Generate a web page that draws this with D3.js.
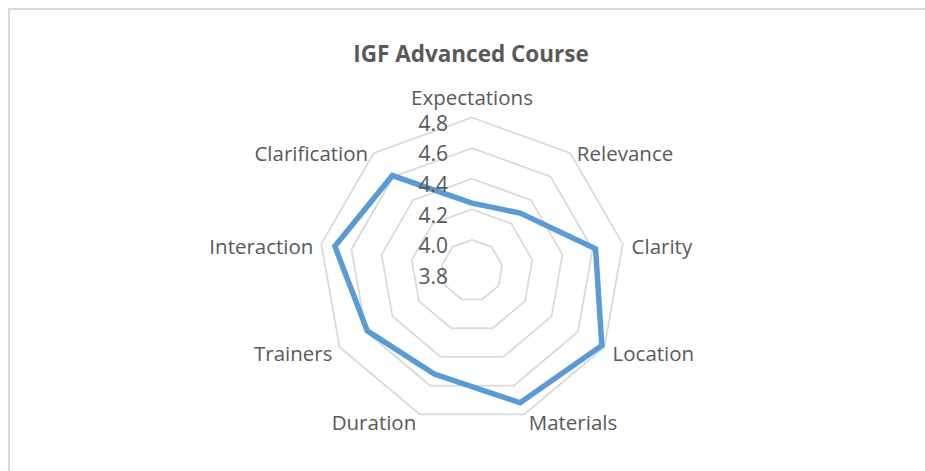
<!doctype html>
<html>

<head>
    <title>IGF Advanced Course</title>
    <script src="https://cdnjs.cloudflare.com/ajax/libs/d3/7.8.5/d3.min.js"></script>
    <style>
        body { margin: 0; background: #fff; }
        text { font-family: "Open Sans", sans-serif; fill: #595959; }
    </style>
</head>

<body>
    <svg width="925" height="471"></svg>
    <script>
        var categories = ["Expectations", "Relevance", "Clarity", "Location", "Materials",
            "Duration", "Trainers", "Interaction", "Clarification"];
        var scores = [4.24, 4.29, 4.62, 4.78, 4.72, 4.52, 4.59, 4.71, 4.61];
        var ticks = [3.8, 4.0, 4.2, 4.4, 4.6, 4.8];

        var svg = d3.select("svg"),
            cx = 472, cy = 270.5, R = 153;

        // chart frame (only top and left edges show in the picture)
        svg.append("path")
            .attr("d", "M9,471 V9 H925")
            .attr("fill", "none")
            .attr("stroke", "#d9d9d9")
            .attr("stroke-width", 2);

        svg.append("text")
            .attr("x", 471)
            .attr("y", 62)
            .attr("text-anchor", "middle")
            .style("font-size", "22.5px")
            .style("font-weight", "bold")
            .text("IGF Advanced Course");

        var r = d3.scaleLinear().domain([3.8, 4.8]).range([0, R]);
        var angle = d3.scaleLinear().domain([0, categories.length]).range([0, 2 * Math.PI]);

        var g = svg.append("g").attr("transform", "translate(" + cx + "," + cy + ")");

        var ring = d3.lineRadial()
            .angle(function (d, i) { return angle(i); })
            .curve(d3.curveLinearClosed);

        g.selectAll(".grid")
            .data(ticks.slice(1))
            .enter().append("path")
            .attr("class", "grid")
            .attr("d", function (t) { return ring.radius(r(t))(categories); })
            .attr("fill", "none")
            .attr("stroke", "#d9d9d9")
            .attr("stroke-width", 1.75);

        g.append("path")
            .attr("d", d3.lineRadial()
                .angle(function (d, i) { return angle(i); })
                .radius(function (d) { return r(d); })
                .curve(d3.curveLinearClosed)(scores))
            .attr("fill", "none")
            .attr("stroke", "#5b9bd5")
            .attr("stroke-width", 5.5)
            .attr("stroke-linejoin", "miter");

        g.selectAll(".tick")
            .data(ticks)
            .enter().append("text")
            .attr("class", "tick")
            .attr("x", -24)
            .attr("y", function (t) { return -r(t) + 6; })
            .attr("dy", "0.35em")
            .attr("text-anchor", "end")
            .style("font-size", "21px")
            .text(function (t) { return t.toFixed(1); });

        g.selectAll(".cat")
            .data(categories)
            .enter().append("text")
            .attr("class", "cat")
            .each(function (d, i) {
                var a = angle(i), s = Math.sin(a), c = Math.cos(a);
                var x = (R + 7) * s, y = -(R + 7) * c;
                var el = d3.select(this);
                if (Math.abs(s) < 0.1) {
                    el.attr("x", x).attr("y", -R - 13).attr("text-anchor", "middle");
                } else {
                    el.attr("x", x + (s > 0 ? 2 : -1))
                        .attr("y", y + 2 * c + 4)
                        .attr("dy", "0.35em")
                        .attr("text-anchor", s > 0 ? "start" : "end");
                }
            })
            .style("font-size", "20.5px")
            .text(function (d) { return d; });
    </script>
</body>

</html>
